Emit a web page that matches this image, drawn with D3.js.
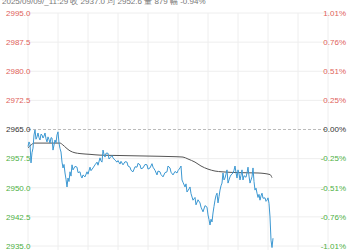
<!DOCTYPE html>
<html>
<head>
<meta charset="utf-8">
<script src="https://cdn.jsdelivr.net/npm/d3@7/dist/d3.min.js"></script>
<style>
  body { margin: 0; background: #fff; }
  svg { display: block; font-family: "Liberation Sans", Arial, sans-serif; }
</style>
</head>
<body>
<script>
var width = 350,
    height = 250;

var preClose = 2965;
var header = "2025/09/09/_11:29 收 2937.0 均 2952.6 量 879 幅 -0.94%";

var priceTicks = [2995.0, 2987.5, 2980.0, 2972.5, 2965.0, 2957.5, 2950.0, 2942.5, 2935.0];
var pctTicks = ["1.01%", "0.76%", "0.51%", "0.25%", "0.00%", "-0.25%", "-0.51%", "-0.76%", "-1.01%"];
var timeTicks = [0, 60, 120, 180, 240, 300];
var timeLabels = ["21:00", "22:00", "09:00", "10:00", "11:15", "14:15"];

var priceMin = [0,1,2,3,4,5,6,7,8,9,10,11,12,13,14,15,16,17,18,19,20,21,22,23,24,25,26,27,28,29,30,31,32,33,34,35,36,37,38,39,40,41,42,43,44,45,47,49,50,52,53,54,55,57,59,60,62,63,65,67,69,70,72,73,74,75,76,77,78,80,81,82,84,85,87,89,90,92,93,95,97,99,100,102,103,105,107,109,110,112,113,115,117,119,120,122,124,125,127,129,130,132,133,135,137,139,140,142,143,145,147,149,150,152,153,154,155,157,158,159,161,162,163,165,167,168,170,172,173,175,177,179,180,181,182,183,184,185,186,187,188,189,190,191,192,193,194,195,196,197,198,199,200,201,202,203,205,206,207,208,209,210,211,212,213,214,215,216,218,219,220,221,222,223,224,225,226,227,228,229,230,231,232,233,234,235,237,238,239,240,241,242,243,244,245];
var priceVal = [2960.6,2961.8,2961.2,2956.4,2959.0,2960.2,2963.6,2964.9,2962.5,2963.1,2964.1,2962.9,2962.3,2963.8,2963.6,2962.8,2963.3,2964.1,2962.6,2961.8,2963.1,2962.4,2961.5,2962.9,2962.8,2959.7,2961.0,2962.3,2961.6,2963.6,2964.4,2961.5,2960.1,2959.2,2956.6,2955.1,2956.0,2953.8,2952.2,2950.2,2952.5,2951.6,2954.1,2953.0,2955.9,2954.6,2955.5,2955.3,2953.9,2954.1,2953.0,2952.5,2953.3,2952.8,2954.1,2953.5,2955.3,2954.4,2955.1,2955.9,2956.6,2955.8,2957.7,2956.9,2956.6,2959.7,2958.6,2957.9,2958.9,2958.9,2957.4,2957.7,2958.3,2957.7,2957.1,2956.6,2957.0,2956.1,2956.8,2955.9,2956.7,2956.6,2955.6,2955.3,2954.5,2954.1,2955.4,2955.3,2956.3,2955.9,2954.9,2955.1,2956.0,2955.9,2954.8,2955.1,2956.2,2955.3,2954.5,2953.3,2954.3,2954.1,2953.4,2952.8,2953.9,2954.1,2955.6,2955.1,2954.0,2953.3,2954.2,2953.8,2954.4,2955.1,2955.6,2952.0,2951.4,2950.2,2951.0,2948.9,2949.7,2950.2,2948.5,2946.8,2947.5,2945.6,2946.9,2946.1,2945.0,2943.8,2945.4,2945.0,2943.0,2941.8,2940.4,2941.9,2941.2,2943.5,2945.2,2946.8,2948.0,2948.6,2946.1,2947.7,2949.4,2950.5,2951.2,2953.8,2952.0,2952.5,2953.5,2954.6,2951.2,2952.0,2952.8,2953.3,2953.8,2954.5,2955.6,2953.9,2952.5,2954.6,2953.6,2952.0,2953.2,2954.6,2952.0,2953.1,2952.7,2953.8,2955.3,2953.0,2951.2,2952.0,2952.8,2955.1,2951.6,2949.4,2949.9,2948.6,2947.5,2948.3,2946.8,2947.9,2948.6,2947.3,2947.4,2946.5,2946.8,2947.4,2946.0,2942.5,2936.5,2934.6,2937.0];

var avgMin = [0,3,6,32,35,38,42,47,52,62,72,92,112,132,147,155,160,167,173,180,187,194,210,230,242,244];
var avgVal = [2960.3,2961.0,2961.5,2961.5,2961.0,2960.3,2959.5,2959.0,2958.8,2958.6,2958.4,2958.3,2958.2,2958.1,2958.0,2957.9,2957.4,2956.6,2955.6,2954.8,2954.3,2954.1,2953.9,2953.8,2953.4,2952.6];

var up = "#e0625a", down = "#4caf3f", flat = "#333";

var x = d3.scaleLinear().domain([0, 300]).range([28, 328]);
var y = d3.scaleLinear().domain([2935, 2995]).range([246, 13]);

var svg = d3.select("body").append("svg")
    .attr("width", width)
    .attr("height", height);

function tone(v) {
    return v > preClose ? up : (v < preClose ? down : flat);
}

// grid
svg.append("g").selectAll("line")
    .data(d3.range(0, 301, 30))
    .enter().append("line")
    .attr("x1", function (d) { return x(d); })
    .attr("x2", function (d) { return x(d); })
    .attr("y1", y(2995))
    .attr("y2", height)
    .attr("stroke", "#eeeeee");

svg.append("g").selectAll("line")
    .data(priceTicks.filter(function (d) { return d !== preClose; }))
    .enter().append("line")
    .attr("x1", x(0))
    .attr("x2", x(300))
    .attr("y1", function (d) { return y(d); })
    .attr("y2", function (d) { return y(d); })
    .attr("stroke", "#eeeeee");

svg.append("line")
    .attr("x1", x(0)).attr("x2", x(300))
    .attr("y1", y(preClose)).attr("y2", y(preClose))
    .attr("stroke", "#bbbbbb")
    .attr("stroke-dasharray", "3,2");

// left / right labels
svg.append("g").selectAll("text")
    .data(priceTicks)
    .enter().append("text")
    .attr("x", 6)
    .attr("y", function (d) { return y(d); })
    .attr("dy", "0.35em")
    .attr("font-size", 8)
    .attr("fill", tone)
    .text(function (d) { return d.toFixed(1); });

svg.append("g").selectAll("text")
    .data(pctTicks)
    .enter().append("text")
    .attr("x", 346)
    .attr("y", function (d, i) { return y(priceTicks[i]); })
    .attr("dy", "0.35em")
    .attr("text-anchor", "end")
    .attr("font-size", 8)
    .attr("fill", function (d, i) { return tone(priceTicks[i]); })
    .text(function (d) { return d; });

// time labels (mostly below the window edge)
svg.append("g").selectAll("text")
    .data(timeTicks)
    .enter().append("text")
    .attr("x", function (d) { return x(d); })
    .attr("y", 256)
    .attr("text-anchor", function (d, i) { return i === 0 ? "start" : (i === timeTicks.length - 1 ? "end" : "middle"); })
    .attr("font-size", 8)
    .attr("fill", "#555")
    .text(function (d, i) { return timeLabels[i]; });

// lines
var line = d3.line()
    .x(function (d) { return x(d[0]); })
    .y(function (d) { return y(d[1]); });

svg.append("path")
    .datum(avgMin.map(function (m, i) { return [m, avgVal[i]]; }))
    .attr("d", line.curve(d3.curveMonotoneX))
    .attr("fill", "none")
    .attr("stroke", "#555")
    .attr("stroke-width", 1);

svg.append("path")
    .datum(priceMin.map(function (m, i) { return [m, priceVal[i]]; }))
    .attr("d", line.curve(d3.curveLinear))
    .attr("fill", "none")
    .attr("stroke", "#3c98d2")
    .attr("stroke-width", 1);

svg.append("text")
    .attr("x", 2)
    .attr("y", 4)
    .attr("font-size", 8)
    .attr("fill", "#777")
    .text(header);
</script>
</body>
</html>
